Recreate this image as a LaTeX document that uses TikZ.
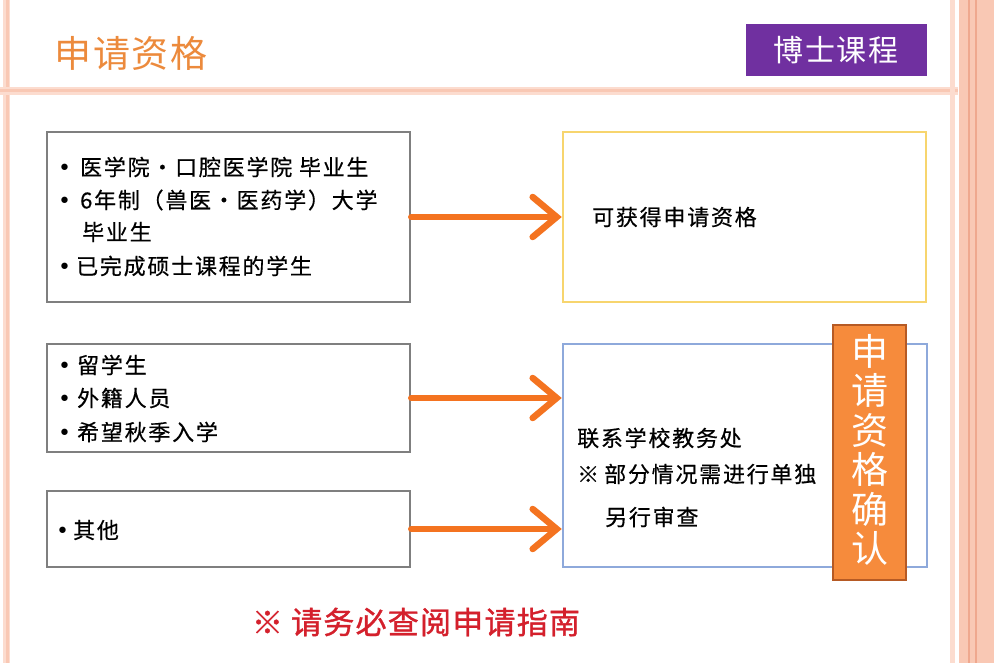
\documentclass[tikz,border=0pt]{standalone}
\usepackage{fontspec}
\setmainfont{Noto Sans CJK SC}
\newfontfamily\bodyfont[LetterSpace=8,FakeBold=0.5]{Noto Sans CJK SC}
\newfontfamily\notefont[LetterSpace=4,FakeBold=1.2]{Noto Sans CJK SC}
\newfontfamily\titlefont[LetterSpace=5]{Noto Sans CJK SC}
\newfontfamily\bulletfont{DejaVu Sans}
\newcommand{\blt}{{\bulletfont •}}
\usetikzlibrary{arrows.meta}
\definecolor{framepink}{HTML}{F9C8B4}
\definecolor{framelight}{HTML}{FCDCCF}
\definecolor{framedark}{HTML}{EFA88E}
\definecolor{titleorange}{HTML}{EC8A3C}
\definecolor{purplebox}{HTML}{7030A0}
\definecolor{grayline}{HTML}{7F7F7F}
\definecolor{yellowline}{HTML}{F7D56E}
\definecolor{blueline}{HTML}{8EA9DB}
\definecolor{arroworange}{HTML}{F47320}
\definecolor{confirmfill}{HTML}{F68B3C}
\definecolor{confirmline}{HTML}{B65A24}
\definecolor{notered}{HTML}{D4202C}
\begin{document}
\begin{tikzpicture}[x=1pt,y=-1pt,
  box/.style={draw, line width=2.5pt, fill=white, inner sep=0pt},
  graybox/.style={box, draw=grayline},
  txt/.style={anchor=west, inner sep=0pt, font=\bodyfont\fontsize{22}{26}\selectfont, text=black},
  flow/.style={draw=arroworange, line width=6.5pt, line cap=round,
    -{Straight Barb[length=24pt, width=40pt, line cap=round]}}
]
\useasboundingbox (0,0) rectangle (994,663);
\fill[white] (0,0) rectangle (994,663);
% frame
\fill[framelight] (3,0) rectangle (10,663);
\fill[framepink] (5.5,0) rectangle (8.5,663);
\fill[framelight] (0,87) rectangle (958,95);
\fill[framepink] (0,89.5) rectangle (958,92.5);
\fill[framelight] (950,0) rectangle (955,663);
\fill[framepink] (959,0) rectangle (994,663);
\fill[framedark] (967.5,0) rectangle (970,663);
\fill[framedark] (975,0) rectangle (977,663);
% title
\node[anchor=west, inner sep=0pt, text=titleorange, font=\titlefont\fontsize{37}{42}\selectfont] (title) at (54,53) {申请资格};
\node[fill=purplebox, text=white, inner sep=0pt, minimum width=181pt, minimum height=52pt,
  font=\titlefont\fontsize{30}{34}\selectfont] (phd) at (836,50) {博士课程};
% boxes
\node[graybox, minimum width=363pt, minimum height=170pt] (b1) at (228.5,217) {};
\node[graybox, minimum width=363pt, minimum height=108pt] (b2) at (228.5,398) {};
\node[graybox, minimum width=363pt, minimum height=76pt] (b3) at (228.5,529) {};
\node[box, draw=yellowline, minimum width=363pt, minimum height=170pt] (yb) at (744.5,217) {};
\node[box, draw=blueline, minimum width=364pt, minimum height=223pt] (bb) at (745,455.5) {};
% box 1 text
\node[txt] (t11) at (58,167) {\blt\hspace{9pt}医学院・口腔医学院 毕业生};
\node[txt] (t12) at (58,200) {\blt\hspace{9pt}6年制（兽医・医药学）大学};
\node[txt] (t13) at (82,232) {毕业生};
\node[txt] (t14) at (58,266) {\blt\hspace{5pt}已完成硕士课程的学生};
% box 2 text
\node[txt] (t21) at (58,365) {\blt\hspace{6pt}留学生};
\node[txt] (t22) at (58,398) {\blt\hspace{6pt}外籍人员};
\node[txt] (t23) at (58,432) {\blt\hspace{6pt}希望秋季入学};
% box 3 text
\node[txt] (t31) at (56,530) {\blt\hspace{4pt}其他};
% yellow text
\node[txt] (ty) at (592,217) {可获得申请资格};
% blue text
\node[txt] (tb1) at (577,438) {联系学校教务处};
\node[txt] (tb2) at (577,474) {※\hspace{5pt}部分情况需进行单独};
\node[txt] (tb3) at (605,517) {另行审查};
% confirm box
\node[draw=confirmline, fill=confirmfill, line width=2pt, inner sep=0pt,
  minimum width=73pt, minimum height=255pt] (cf) at (869.5,452.5) {};
\node[text=white, align=center, inner sep=0pt, font=\fontsize{37}{39.5}\selectfont] (cft) at (869.5,450)
  {申\\请\\资\\格\\确\\认};
% arrows
\draw[flow] (b1.east) -- (yb.west);
\draw[flow] (b2.east) -- (b2.east -| bb.west);
\draw[flow] (b3.east) -- (b3.east -| bb.west);
% note
\node[text=notered, inner sep=0pt, font=\notefont\fontsize{31}{35}\selectfont] (note) at (416,622) {※ 请务必查阅申请指南};
\end{tikzpicture}
\end{document}
